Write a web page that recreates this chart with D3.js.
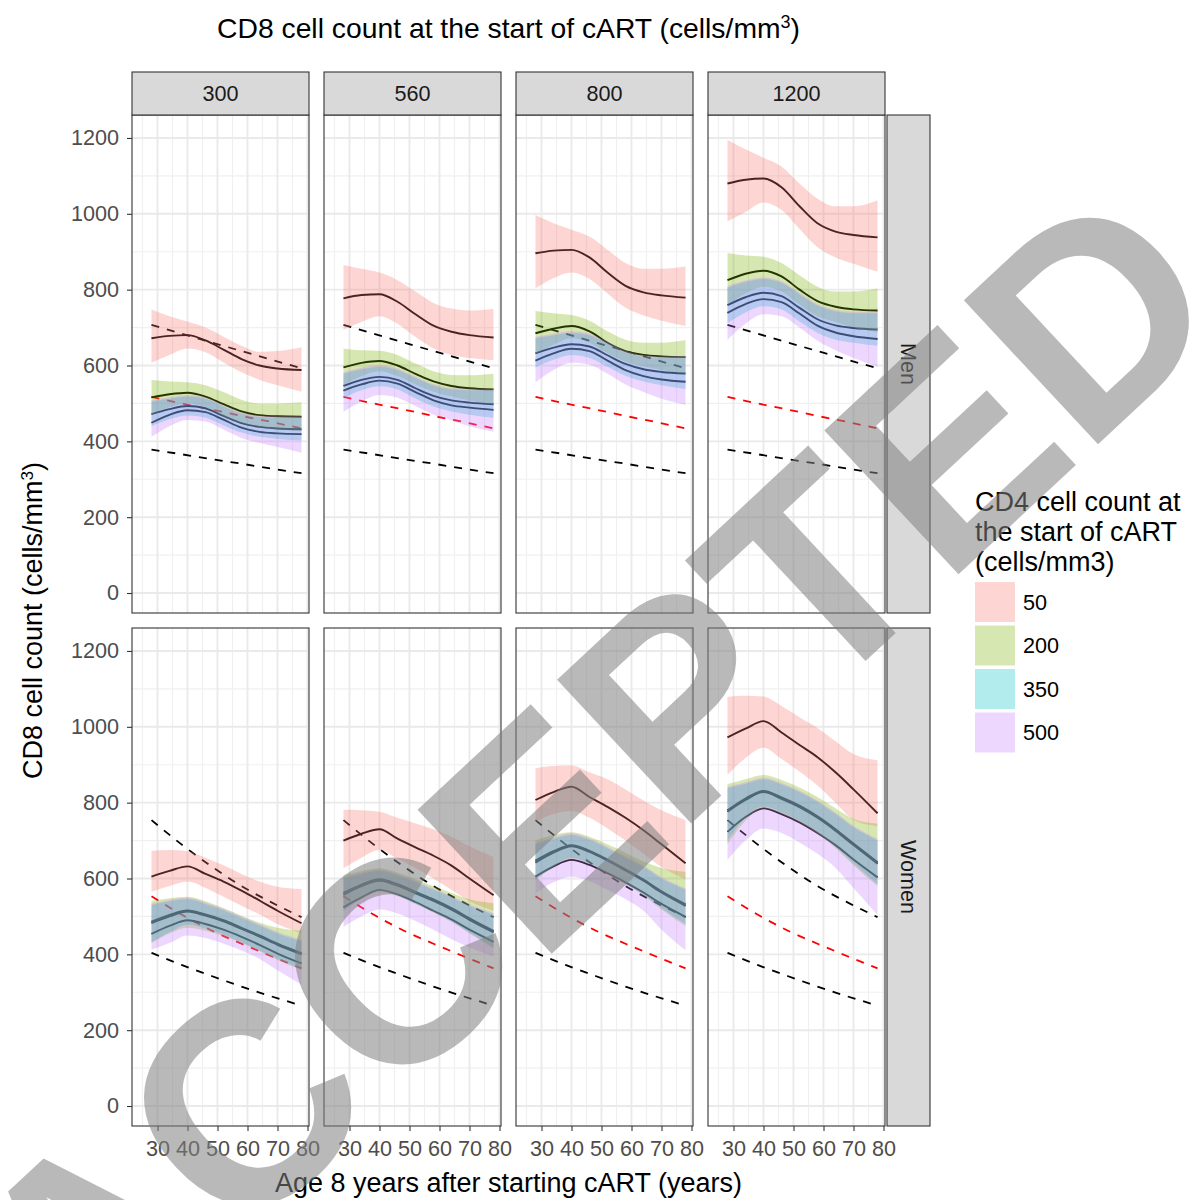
<!DOCTYPE html>
<html>
<head>
<meta charset="utf-8">
<script src="https://cdn.jsdelivr.net/npm/d3@7"></script>
<style>
  body { margin: 0; background: #fff; }
  text { font-family: "Liberation Sans", Arial, sans-serif; }
</style>
</head>
<body>
<svg id="chart" width="1198" height="1200"></svg>
<script>
//  categories and ticks
var ages = [28, 34, 40, 46, 52, 58, 64, 70, 78];
var cd8Levels = ["300", "560", "800", "1200"];
var sexes = ["Men", "Women"];
var cd4Levels = ["50", "200", "350", "500"];
var cd4Colors = ["#F8766D", "#7CAE00", "#00BFC4", "#C77CFF"];
var xTicks = [30, 40, 50, 60, 70, 80];
var yTicks = [0, 200, 400, 600, 800, 1000, 1200];

//  dashed reference lines (same in every column of a row)
var refAges = [28, 38, 48, 58, 68, 78];
var menRefHigh = [707, 684, 661, 638, 615, 593];
var menRefRed = [517, 500, 484, 467, 451, 434];
var menRefLow = [378, 366, 353, 341, 328, 316];
var womenRefHigh = [754, 690, 632, 580, 537, 498];
var womenRefRed = [553, 505, 463, 428, 395, 363];
var womenRefLow = [404, 372, 343, 315, 289, 265];

//  fitted curves and bands, one row per CD4 level (50, 200, 350, 500)
var fitMen300 = [[672,678,680,666,642,617,600,592,588],[516,524,528,518,498,479,469,466,465],[472,485,493,487,467,448,438,434,432],[449,470,482,477,457,436,425,421,419]];
var hiMen300 = [[748,730,716,700,676,652,636,638,648],[562,558,556,548,530,510,500,500,503],[505,512,518,512,492,473,464,462,462],[509,516,522,516,496,477,468,466,466]];
var loMen300 = [[607,628,645,635,608,582,562,548,531],[470,490,500,490,466,448,438,432,427],[440,458,468,462,442,423,412,406,402],[412,440,456,452,431,409,396,385,370]];

var fitMen560 = [[777,786,788,768,735,705,689,680,674],[595,607,612,600,578,558,546,540,537],[546,562,570,562,540,520,508,502,498],[534,550,560,552,530,508,495,489,483]];
var hiMen560 = [[865,855,845,825,795,765,750,745,749],[645,640,639,628,605,585,575,574,578],[578,590,597,588,567,547,537,535,535],[582,594,601,592,571,551,541,539,539]];
var loMen560 = [[694,715,730,710,675,645,628,620,614],[548,572,585,572,550,531,518,508,497],[515,535,545,537,513,492,479,470,462],[478,505,522,515,493,470,455,440,425]];

var fitMen800 = [[896,903,905,885,845,810,793,785,779],[685,697,704,690,660,638,628,624,622],[632,647,656,650,627,604,590,583,579],[613,632,644,638,613,588,572,563,557]];
var hiMen800 = [[997,975,958,940,905,870,855,855,861],[744,738,733,718,690,668,660,660,667],[672,680,686,680,658,635,623,620,622],[676,684,690,684,662,639,627,624,626]];
var loMen800 = [[804,830,845,828,790,752,732,718,704],[630,655,672,660,632,610,598,588,578],[595,615,628,620,597,573,558,548,538],[555,588,607,602,578,550,530,512,496]];

var fitMen1200 = [[1080,1090,1093,1070,1020,975,953,944,938],[825,842,850,835,800,770,755,748,745],[759,780,792,783,752,722,706,699,695],[739,762,775,767,737,705,687,677,670]];
var hiMen1200 = [[1195,1170,1148,1125,1080,1040,1020,1020,1036],[897,890,887,870,838,808,795,795,803],[805,820,828,818,788,758,743,738,738],[809,824,832,822,792,762,747,742,742]];
var loMen1200 = [[980,1005,1030,1010,960,912,885,868,847],[760,790,808,795,760,730,715,700,688],[712,740,756,748,716,686,668,660,652],[667,710,735,730,700,665,640,620,597]];

var fitWomen300 = [[605,620,632,612,592,568,542,515,482],[486,504,516,505,490,470,450,428,403],[482,500,513,502,487,467,447,425,400],[454,475,490,480,465,446,425,402,376]];
var hiWomen300 = [[673,675,672,655,635,612,592,578,572],[541,548,552,540,522,502,483,470,462],[530,540,545,533,516,496,476,455,435],[534,544,549,537,520,500,480,459,439]];
var loWomen300 = [[565,580,592,575,552,528,505,480,455],[430,455,470,462,448,430,408,385,358],[432,458,478,468,452,432,410,388,362],[412,430,450,443,428,410,388,358,320]];

var fitWomen560 = [[700,718,730,705,682,660,634,600,556],[562,584,598,585,565,545,522,495,462],[557,580,594,581,561,541,518,491,458],[524,550,570,558,538,515,492,465,433]];
var hiWomen560 = [[781,780,776,760,745,730,710,685,657],[609,620,627,615,598,580,562,545,535],[600,612,620,608,590,570,550,528,505],[604,616,624,612,594,574,554,532,509]];
var loWomen560 = [[627,655,675,652,628,600,570,540,515],[515,545,565,553,532,510,485,455,415],[515,548,568,556,534,512,487,457,420],[473,500,518,508,488,465,440,418,394]];

var fitWomen800 = [[807,828,842,815,789,760,727,690,640],[647,672,688,673,650,624,597,566,532],[642,668,685,670,647,621,594,563,528],[605,632,649,636,614,590,563,533,499]];
var hiWomen800 = [[891,897,898,880,862,835,806,780,754],[701,715,722,710,690,668,645,628,618],[690,705,715,702,680,655,630,600,570],[694,709,719,706,684,659,634,604,574]];
var loWomen800 = [[750,770,778,760,732,700,665,630,598],[595,630,652,638,612,585,555,518,475],[598,632,655,640,615,588,558,522,480],[561,590,605,593,570,545,515,465,411]];

var fitWomen1200 = [[972,995,1015,985,952,920,880,835,772],[780,811,831,814,792,764,730,692,643],[776,807,828,810,788,760,726,688,639],[723,762,785,770,748,720,688,650,603]];
var hiWomen1200 = [[1079,1082,1080,1055,1025,997,962,928,912],[849,862,873,860,840,815,785,757,745],[838,850,862,848,828,802,770,735,700],[842,854,866,852,832,806,774,739,704]];
var loWomen1200 = [[873,918,945,915,882,845,800,755,738],[690,752,785,770,748,718,680,635,580],[700,760,790,775,752,722,685,640,585],[649,700,732,720,695,665,628,575,504]];

//  panels: row = sex, col = CD8 level
var panels = [
	{row: 0, col: 0, fit: fitMen300, lo: loMen300, hi: hiMen300},
	{row: 0, col: 1, fit: fitMen560, lo: loMen560, hi: hiMen560},
	{row: 0, col: 2, fit: fitMen800, lo: loMen800, hi: hiMen800},
	{row: 0, col: 3, fit: fitMen1200, lo: loMen1200, hi: hiMen1200},
	{row: 1, col: 0, fit: fitWomen300, lo: loWomen300, hi: hiWomen300},
	{row: 1, col: 1, fit: fitWomen560, lo: loWomen560, hi: hiWomen560},
	{row: 1, col: 2, fit: fitWomen800, lo: loWomen800, hi: hiWomen800},
	{row: 1, col: 3, fit: fitWomen1200, lo: loWomen1200, hi: hiWomen1200}
];
var refLines = [
	[[menRefHigh, "#000"], [menRefRed, "#FF0000"], [menRefLow, "#000"]],
	[[womenRefHigh, "#000"], [womenRefRed, "#FF0000"], [womenRefLow, "#000"]]
];

//  layout
var svg = d3.select("#chart");
var colX = [132, 324, 516, 708], panelW = 177;
var rowY = [115, 628], panelH = 498;
var stripTop = 72, stripH = 43;
var stripRX = 887, stripRW = 43;

var x = d3.scaleLinear().domain([21.5, 80.5]).range([0, panelW]);
var y = d3.scaleLinear().domain([-52.7, 1260.6]).range([panelH, 0]);

var line = d3.line().curve(d3.curveMonotoneX)
	.x(function(d) { return x(d.age); })
	.y(function(d) { return y(d.v); });
var area = d3.area().curve(d3.curveMonotoneX)
	.x(function(d) { return x(d.age); })
	.y0(function(d) { return y(d.lo); })
	.y1(function(d) { return y(d.hi); });

panels.forEach(function(p) {
	var g = svg.append("g").attr("transform", "translate(" + colX[p.col] + "," + rowY[p.row] + ")");
	g.append("rect").attr("width", panelW).attr("height", panelH).attr("fill", "#fff");

	// grid: minor first, then major
	var yMinor = d3.range(100, 1300, 200), xMinor = d3.range(25, 80, 10);
	g.selectAll(".ymin").data(yMinor).enter().append("line")
		.attr("x1", 0).attr("x2", panelW).attr("y1", y).attr("y2", y)
		.attr("stroke", "#F0F0F0").attr("stroke-width", 1.2);
	g.selectAll(".xmin").data(xMinor).enter().append("line")
		.attr("y1", 0).attr("y2", panelH).attr("x1", x).attr("x2", x)
		.attr("stroke", "#F0F0F0").attr("stroke-width", 1.2);
	g.selectAll(".ymaj").data(yTicks).enter().append("line")
		.attr("x1", 0).attr("x2", panelW).attr("y1", y).attr("y2", y)
		.attr("stroke", "#EAEAEA").attr("stroke-width", 1.9);
	g.selectAll(".xmaj").data(xTicks).enter().append("line")
		.attr("y1", 0).attr("y2", panelH).attr("x1", x).attr("x2", x)
		.attr("stroke", "#EAEAEA").attr("stroke-width", 1.9);

	// dashed reference lines
	refLines[p.row].forEach(function(r) {
		var pts = refAges.map(function(a, i) { return {age: a, v: r[0][i]}; });
		g.append("path").attr("d", line(pts))
			.attr("fill", "none").attr("stroke", r[1])
			.attr("stroke-width", 1.8).attr("stroke-dasharray", "8,8");
	});

	// fitted lines (black, ribbons go on top)
	p.fit.forEach(function(f) {
		var pts = ages.map(function(a, i) { return {age: a, v: f[i]}; });
		g.append("path").attr("d", line(pts))
			.attr("fill", "none").attr("stroke", "#000").attr("stroke-width", 1.9);
	});

	// ribbons
	cd4Levels.forEach(function(k, i) {
		var pts = ages.map(function(a, j) { return {age: a, lo: p.lo[i][j], hi: p.hi[i][j]}; });
		g.append("path").attr("d", area(pts))
			.attr("fill", cd4Colors[i]).attr("fill-opacity", 0.3);
	});

	g.append("rect").attr("width", panelW).attr("height", panelH)
		.attr("fill", "none").attr("stroke", "#333").attr("stroke-width", 1.1);
});

//  top strips
cd8Levels.forEach(function(c, i) {
	svg.append("rect").attr("x", colX[i]).attr("y", stripTop)
		.attr("width", panelW).attr("height", stripH)
		.attr("fill", "#D9D9D9").attr("stroke", "#333").attr("stroke-width", 1.1);
	svg.append("text").attr("x", colX[i] + panelW / 2).attr("y", stripTop + stripH / 2 + 7.7)
		.attr("text-anchor", "middle").attr("font-size", 21.6).attr("fill", "#1A1A1A").text(c);
});

//  right strips
sexes.forEach(function(s, i) {
	svg.append("rect").attr("x", stripRX).attr("y", rowY[i])
		.attr("width", stripRW).attr("height", panelH)
		.attr("fill", "#D9D9D9").attr("stroke", "#333").attr("stroke-width", 1.1);
	svg.append("text")
		.attr("transform", "translate(" + (stripRX + stripRW / 2) + "," + (rowY[i] + panelH / 2) + ") rotate(90)")
		.attr("text-anchor", "middle").attr("dy", "0.36em")
		.attr("font-size", 21.6).attr("fill", "#1A1A1A").text(s);
});

//  axes
function styleAxis(sel) {
	sel.select(".domain").remove();
	sel.selectAll(".tick line").attr("stroke", "#333").attr("stroke-width", 1.1);
	sel.selectAll(".tick text").attr("font-size", 21.6).attr("fill", "#4D4D4D")
		.attr("font-family", "Liberation Sans, Arial, sans-serif");
}
rowY.forEach(function(ry) {
	svg.append("g").attr("transform", "translate(" + colX[0] + "," + ry + ")")
		.call(d3.axisLeft(y).tickValues(yTicks).tickFormat(d3.format("d")).tickSize(5).tickPadding(8))
		.call(styleAxis);
});
colX.forEach(function(cx) {
	svg.append("g").attr("transform", "translate(" + cx + "," + (rowY[1] + panelH) + ")")
		.call(d3.axisBottom(x).tickValues(xTicks).tickFormat(d3.format("d")).tickSize(5).tickPadding(10))
		.call(styleAxis);
});

//  titles
var title = svg.append("text").attr("x", 508.5).attr("y", 38)
	.attr("text-anchor", "middle").attr("font-size", 28.3).attr("fill", "#000");
title.append("tspan").text("CD8 cell count at the start of cART (cells/mm");
title.append("tspan").attr("baseline-shift", "super").attr("font-size", 18).text("3");
title.append("tspan").text(")");

svg.append("text").attr("x", 508.5).attr("y", 1192)
	.attr("text-anchor", "middle").attr("font-size", 27).attr("fill", "#000")
	.text("Age 8 years after starting cART (years)");

var yt = svg.append("text").attr("transform", "translate(42," + (rowY[0] + (rowY[1] + panelH - rowY[0]) / 2) + ") rotate(-90)")
	.attr("text-anchor", "middle").attr("font-size", 27).attr("fill", "#000");
yt.append("tspan").text("CD8 cell count (cells/mm");
yt.append("tspan").attr("baseline-shift", "super").attr("font-size", 17).text("3");
yt.append("tspan").text(")");

//  legend
var legendTitle = ["CD4 cell count at", "the start of cART", "(cells/mm3)"];
legendTitle.forEach(function(t, i) {
	svg.append("text").attr("x", 975).attr("y", 511 + i * 30)
		.attr("font-size", 27).attr("fill", "#000").text(t);
});
cd4Levels.forEach(function(k, i) {
	var ky = 582 + i * 43.5;
	svg.append("rect").attr("x", 975).attr("y", ky).attr("width", 40).attr("height", 40)
		.attr("fill", cd4Colors[i]).attr("fill-opacity", 0.3);
	svg.append("text").attr("x", 1023).attr("y", ky + 27.7)
		.attr("font-size", 21.6).attr("fill", "#000").text(k);
});

//  watermark
var wmSize = 286;
svg.append("text")
	.attr("transform", "translate(590,778) rotate(-43)")
	.attr("text-anchor", "middle").attr("y", wmSize * 0.358)
	.attr("font-size", wmSize).attr("font-weight", "bold")
	.attr("fill", "#808080").attr("fill-opacity", 0.55)
	.text("ACCEPTED");
</script>
</body>
</html>
